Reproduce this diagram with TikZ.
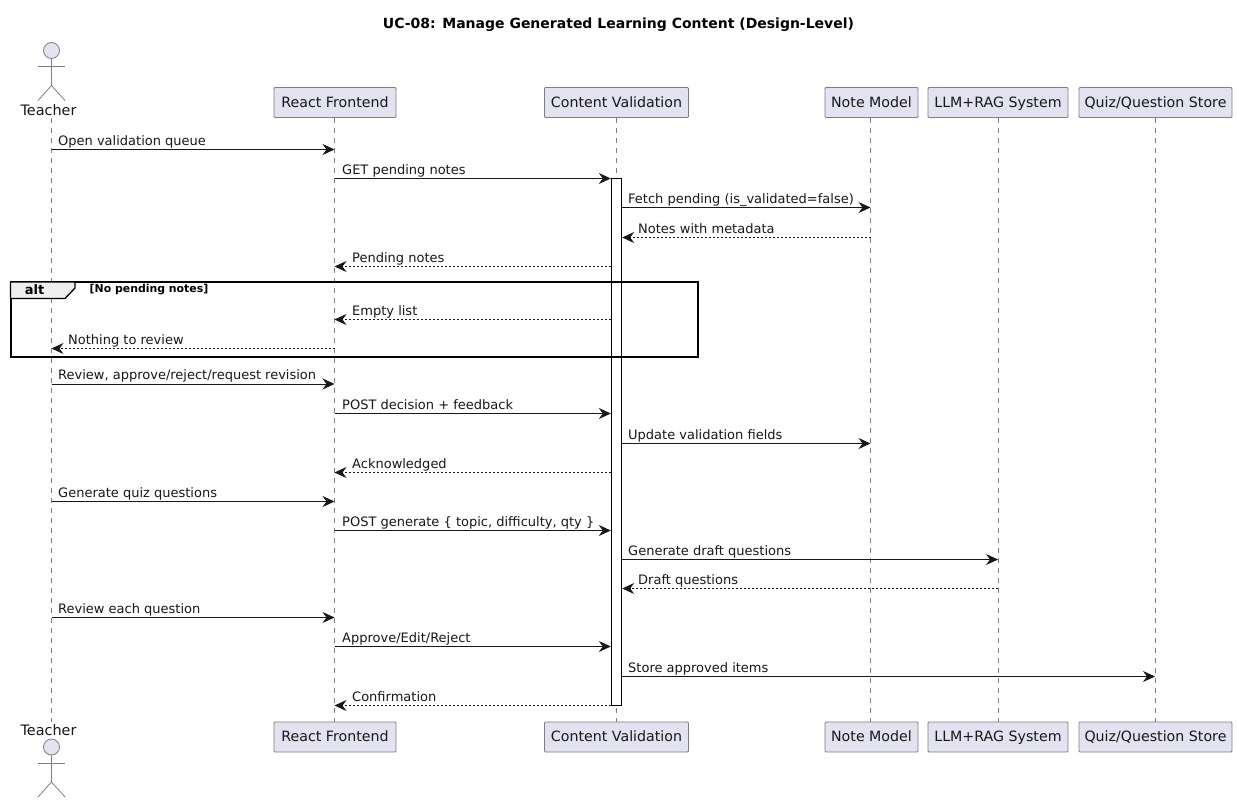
\documentclass[tikz,border=0pt]{standalone}
\usepackage{fontspec}
\setmainfont{DejaVu Sans}
\usetikzlibrary{arrows.meta}
\definecolor{pfill}{HTML}{E2E2F0}
\definecolor{pline}{HTML}{7F7F7F}
\definecolor{ink}{HTML}{181818}
\definecolor{tabfill}{HTML}{EEEEEE}
\tikzset{
  part/.style={draw=pline,fill=pfill,rounded corners=1pt,line width=.8pt,minimum height=30pt,inner sep=0pt,text height=12.5pt,text depth=3pt,text=ink,font=\fontsize{14.2}{16}\selectfont},
  actorlabel/.style={text=ink,inner sep=0pt,text height=10.5pt,text depth=0pt,font=\fontsize{14.4}{16}\selectfont},
  life/.style={draw=pline,line width=.8pt,dash pattern=on 5pt off 5pt},
  limb/.style={draw=pline,line width=.8pt},
  msg/.style={draw=ink,line width=.9pt,-{Stealth[length=12pt,width=11pt,inset=4pt]}},
  back/.style={msg,dash pattern=on 2pt off 2pt},
  lbl/.style={anchor=base west,inner sep=0pt,text=ink,font=\fontsize{13}{15}\selectfont},
}
\newcommand{\actorfig}[2]{% head centre x, y
  \draw[limb,fill=pfill] (#1,#2) circle (8);
  \draw[limb] (#1,#2+8) -- (#1,#2+35);
  \draw[limb] (#1-13.5,#2+16) -- (#1+13.5,#2+16);
  \draw[limb] (#1-13.5,#2+50) -- (#1,#2+35) -- (#1+13.5,#2+50);
}
% \msgline{style}{from}{to}{y}{label x}{text}
\newcounter{msgno}
\newcommand{\msgline}[6]{%
  \stepcounter{msgno}%
  \coordinate (m\arabic{msgno}) at (0,#4);
  \draw[#1] (#2 |- m\arabic{msgno}) -- (#3 |- m\arabic{msgno});
  \node[lbl] (t\arabic{msgno}) at (#5,#4-4.5) {#6};
}
\begin{document}
\begin{tikzpicture}[x=1pt,y=-1pt]
\useasboundingbox (0,0) rectangle (1237,803);
\fill[white] (0,0) rectangle (1237,803);
\node[anchor=base,inner sep=0pt,text=black,font=\fontsize{14}{16}\selectfont\bfseries] (title) at (618.5,28) {UC-08: Manage Generated Learning Content (Design-Level)};

% participants
\node[actorlabel] (tchT) at (48.5,110) {Teacher};
\node[part,minimum width=122pt] (feT) at (335,102.5) {React Frontend};
\node[part,minimum width=144pt] (cvT) at (616.5,102.5) {Content Validation};
\node[part,minimum width=93pt] (nmT) at (871.5,102.5) {Note Model};
\node[part,minimum width=140pt] (llT) at (998,102.5) {LLM+RAG System};
\node[part,minimum width=153pt] (qsT) at (1155.5,102.5) {Quiz/Question Store};
\node[actorlabel] (tchB) at (48.5,730) {Teacher};
\node[part,minimum width=122pt] (feB) at (335,737) {React Frontend};
\node[part,minimum width=144pt] (cvB) at (616.5,737) {Content Validation};
\node[part,minimum width=93pt] (nmB) at (871.5,737) {Note Model};
\node[part,minimum width=140pt] (llB) at (998,737) {LLM+RAG System};
\node[part,minimum width=153pt] (qsB) at (1155.5,737) {Quiz/Question Store};
\actorfig{51.5}{50.5}
\actorfig{51.5}{747}

% lifelines
\coordinate (tch) at (51.5,118);
\coordinate (tchEnd) at (51.5,722);
\coordinate (fe) at (334.5,118);
\coordinate (feEnd) at (334.5,722);
\coordinate (cv) at (616.5,118);
\coordinate (cvEnd) at (616.5,722);
\coordinate (nm) at (870.5,118);
\coordinate (nmEnd) at (870.5,722);
\coordinate (ll) at (998,118);
\coordinate (llEnd) at (998,722);
\coordinate (qs) at (1155,118);
\coordinate (qsEnd) at (1155,722);
\draw[life] (tch) -- (tchEnd);
\draw[life] (fe) -- (feEnd);
\draw[life] (cv) -- (cvEnd);
\draw[life] (nm) -- (nmEnd);
\draw[life] (ll) -- (llEnd);
\draw[life] (qs) -- (qsEnd);

% activation bar
\node[draw=black,fill=white,line width=.9pt,inner sep=0pt,minimum width=10.5pt,minimum height=527pt] (act) at (616.5,441.8) {};

% alt frame
\draw[black,line width=2pt] (10.5,282) rectangle (698,356.5);
\draw[black,line width=1.3pt,fill=tabfill] (10.5,282) -- (75,282) -- (75,288) -- (65,298.5) -- (10.5,298.5) -- cycle;
\node[inner sep=0pt,text=black,font=\fontsize{13}{15}\selectfont\bfseries] (altT) at (34.5,290) {alt};
\node[anchor=base west,inner sep=0pt,text=black,font=\fontsize{10.9}{12}\selectfont\bfseries] (altG) at (89.5,292) {[No pending notes]};

% messages
\msgline{msg}{tch}{fe}{149.5}{58}{Open validation queue}
\msgline{msg}{fe}{act.west}{178.5}{342}{GET pending notes}
\msgline{msg}{act.east}{nm}{207.5}{628}{Fetch pending (is\_validated=false)}
\msgline{back}{nm}{act.east}{237.5}{638}{Notes with metadata}
\msgline{back}{act.west}{fe}{266.5}{352}{Pending notes}
\msgline{back}{act.west}{fe}{319.5}{352}{Empty list}
\msgline{back}{fe}{tch}{348.5}{68}{Nothing to review}
\msgline{msg}{tch}{fe}{384}{58}{Review, approve/reject/request revision}
\msgline{msg}{fe}{act.west}{413.5}{342}{POST decision + feedback}
\msgline{msg}{act.east}{nm}{443.5}{628}{Update validation fields}
\msgline{back}{act.west}{fe}{472.5}{352}{Acknowledged}
\msgline{msg}{tch}{fe}{501.5}{58}{Generate quiz questions}
\msgline{msg}{fe}{act.west}{530.5}{342}{POST generate \{ topic, difficulty, qty \}}
\msgline{msg}{act.east}{ll}{559.5}{628}{Generate draft questions}
\msgline{back}{ll}{act.east}{588.5}{638}{Draft questions}
\msgline{msg}{tch}{fe}{617.5}{58}{Review each question}
\msgline{msg}{fe}{act.west}{646.5}{342}{Approve/Edit/Reject}
\msgline{msg}{act.east}{qs}{676.5}{628}{Store approved items}
\msgline{back}{act.west}{fe}{705.5}{352}{Confirmation}
\end{tikzpicture}
\end{document}
